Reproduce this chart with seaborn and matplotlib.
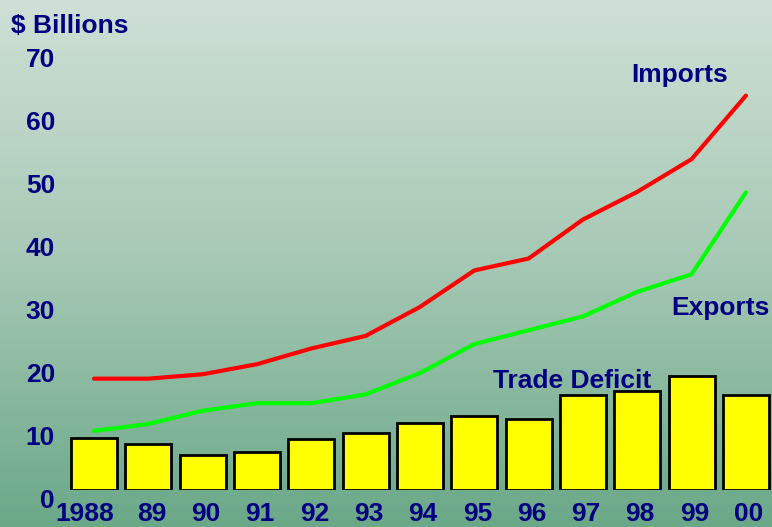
import numpy as np
import pandas as pd
import matplotlib
matplotlib.use("Agg")
import matplotlib.pyplot as plt
import seaborn as sns
from matplotlib.colors import LinearSegmentedColormap

# data ($ billions)
years = ["1988", "89", "90", "91", "92", "93", "94", "95", "96", "97", "98", "99", "00"]
imports = [17.7, 17.7, 18.4, 20.0, 22.5, 24.5, 29.1, 34.9, 36.8, 43.0, 47.4, 52.6, 62.7]
exports = [9.4, 10.5, 12.6, 13.8, 13.8, 15.2, 18.6, 23.2, 25.4, 27.6, 31.5, 34.3, 47.3]
deficit = [8.2, 7.3, 5.6, 6.0, 8.1, 9.1, 10.7, 11.7, 11.3, 15.1, 15.7, 18.2, 15.1]
y_ticks = [0, 10, 20, 30, 40, 50, 60, 70]

df = pd.DataFrame({"pos": range(len(years)), "year": years,
                   "imports": imports, "exports": exports, "deficit": deficit})

sns.set_theme(style="white")
plt.rcParams["font.family"] = ["Liberation Sans", "DejaVu Sans"]
navy = "#000080"
W, H = 772, 527

fig = plt.figure(figsize=(W / 100, H / 100), dpi=100)

# gradient background
bg = fig.add_axes([0, 0, 1, 1], zorder=-1)
cmap = LinearSegmentedColormap.from_list("bg", ["#cfe0d6", "#a6c8b4", "#6aa888"])
bg.imshow(np.linspace(0, 1, 256).reshape(-1, 1), aspect="auto", cmap=cmap,
          extent=[0, 1, 0, 1])
bg.axis("off")

ax = fig.add_axes([60 / W, (H - 490) / H, (W - 60) / W, 490 / H])
ax.patch.set_alpha(0)

sns.barplot(data=df, x="pos", y="deficit", native_scale=True, width=0.85,
            color="#ffff00", saturation=1, edgecolor="black", linewidth=2, ax=ax)
sns.lineplot(data=df, x="pos", y="imports", color="#ff0000", linewidth=3, ax=ax)
sns.lineplot(data=df, x="pos", y="exports", color="#00ff00", linewidth=3, ax=ax)

ax.set_xlim(-0.626, 12.48)
ax.set_ylim(0, 490 / 6.29)
ax.set_xlabel("")
ax.set_ylabel("")
ax.set_xticks([])
ax.set_yticks([])
for s in ax.spines.values():
    s.set_visible(False)

font = dict(color=navy, fontweight="bold", fontsize=19)

# y labels sit a bit below their values, as in the original
for v in y_ticks:
    ax.annotate(str(v), xy=(0, v), xycoords=("axes fraction", "data"),
                xytext=(-5, -10.5), textcoords="offset pixels",
                ha="right", va="center", annotation_clip=False, **font)

# year labels hug the bottom edge
for p, lab in zip(df["pos"], years):
    dx = -9 if p == 0 else 3
    ax.annotate(lab, xy=(p, 0), xycoords="data", xytext=(dx, -36),
                textcoords="offset pixels", ha="center", va="bottom",
                annotation_clip=False, **font)

def label(txt, x, y, ha="left"):
    fig.text(x / W, 1 - y / H, txt, ha=ha, va="baseline", **font)

label("$ Billions", 11, 33)
label("Imports", 680, 82, ha="center")
label("Exports", 720, 315, ha="center")
label("Trade Deficit", 572, 388, ha="center")

fig.savefig("out.png", dpi=100)
